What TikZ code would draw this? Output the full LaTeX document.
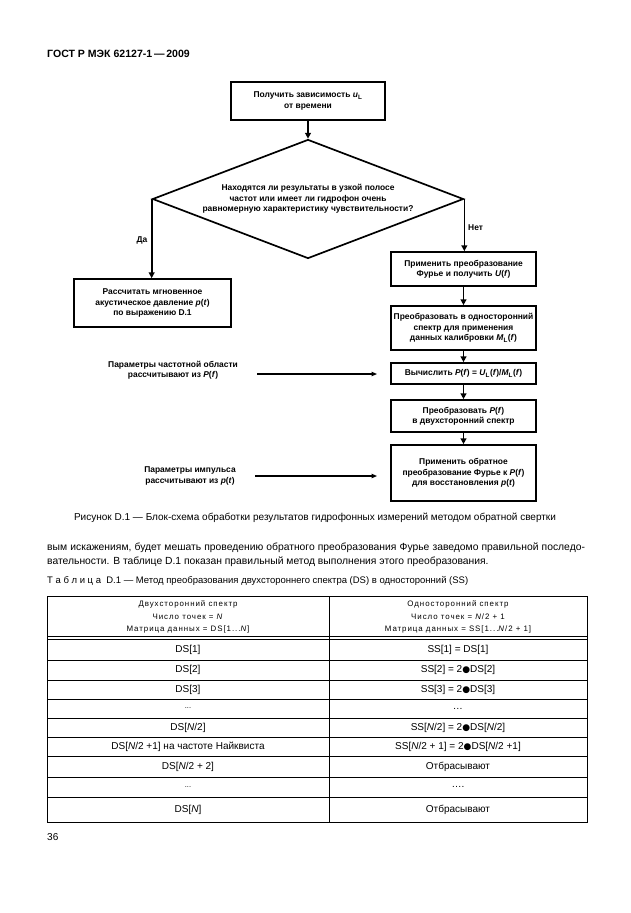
\documentclass[tikz,border=0pt]{standalone}
\usepackage{fontspec}
\setmainfont{Liberation Sans}
\newfontfamily\symfont{DejaVu Sans}
\newfontfamily\spacedfont[LetterSpace=12]{Liberation Sans}
\usetikzlibrary{shapes.geometric,arrows.meta}
\newcommand\pxu{0.3333mm}
\newcommand\bdot{{\symfont\fontsize{8.5}{8.5}\selectfont ●}}
\newcommand\iv[1]{\textit{#1}}
\tikzset{
  fc/.style={font=\fontsize{8}{9.8}\selectfont\bfseries},
  fbox/.style={fc, draw, line width=1.6pt, align=center, inner sep=0pt},
  fdia/.style={fc, draw, line width=1.6pt, align=center, inner sep=0pt, shape=diamond, aspect=2.6},
  flow/.style={line width=1.6pt, -{Triangle[length=5.5pt,width=5.5pt]}},
  inarrow/.style={line width=1pt, -{Triangle[length=5pt,width=4pt]}},
  lbl/.style={fc, align=center, inner sep=0pt},
  cell/.style={font=\fontsize{9.5}{11}\selectfont, inner sep=0pt},
  hcell/.style={font=\spacedfont\fontsize{7.5}{11.5}\selectfont, align=center, inner sep=0pt},
  tline/.style={line width=0.8pt},
  txt/.style={inner sep=0pt, anchor=base west},
}
\begin{document}
\begin{tikzpicture}[x=\pxu,y=-\pxu]
\fill[white] (0,0) rectangle (630,913);
\useasboundingbox (0,0) rectangle (630,913);
% header
\node[txt, font=\fontsize{10}{12}\selectfont\bfseries] (hdr) at (47,57) {ГОСТ Р МЭК 62127-1\,—\,2009};
% flowchart
\node[fbox, minimum width=154*\pxu, minimum height=38*\pxu] (b1) at (308,101) {Получить зависимость \iv{u}\textsubscript{L}\\от времени};
\node[fdia, minimum width=311*\pxu, minimum height=119*\pxu] (dia) at (308,199) {Находятся ли результаты в узкой полосе\\частот или имеет ли гидрофон очень\\равномерную характеристику чувствительности?};
\node[fbox, minimum width=157*\pxu, minimum height=48*\pxu] (b7) at (152.5,303) {Рассчитать мгновенное\\акустическое давление \iv{p}(\iv{t})\\по выражению D.1};
\node[fbox, minimum width=145*\pxu, minimum height=34*\pxu] (b2) at (463.5,269) {Применить преобразование\\Фурье и получить \iv{U}(\iv{f})};
\node[fbox, minimum width=145*\pxu, minimum height=44*\pxu] (b3) at (463.5,328) {Преобразовать в односторонний\\спектр для применения\\данных калибровки \iv{M}\textsubscript{L}(\iv{f})};
\node[fbox, minimum width=145*\pxu, minimum height=21*\pxu] (b4) at (463.5,373.5) {Вычислить \iv{P}(\iv{f}) = \iv{U}\textsubscript{L}(\iv{f})/\iv{M}\textsubscript{L}(\iv{f})};
\node[fbox, minimum width=145*\pxu, minimum height=32*\pxu] (b5) at (463.5,416) {Преобразовать \iv{P}(\iv{f})\\в двухсторонний спектр};
\node[fbox, minimum width=145*\pxu, minimum height=56*\pxu] (b6) at (463.5,473) {Применить обратное\\преобразование Фурье к \iv{P}(\iv{f})\\для восстановления \iv{p}(\iv{t})};
\node[lbl] (yes) at (142,240) {Да};
\node[lbl, anchor=west] (no) at (468,228) {Нет};
\node[lbl] (in1) at (173,370) {Параметры частотной области\\рассчитывают из \iv{P}(\iv{f})};
\node[lbl] (in2) at (190,476) {Параметры импульса\\рассчитывают из \iv{p}(\iv{t})};
\coordinate (p1) at (257,374);
\coordinate (q1) at (377,374);
\coordinate (p2) at (255,476);
\coordinate (q2) at (377,476);
\draw[flow] (b1.south) -- (dia.north);
\draw[flow] (dia.west) -- (dia.west |- b7.north);
\draw[flow] (dia.east) -- (dia.east |- b2.north);
\draw[flow] (b2) -- (b3);
\draw[flow] (b3) -- (b4);
\draw[flow] (b4) -- (b5);
\draw[flow] (b5) -- (b6);
\draw[inarrow] (p1) -- (q1);
\draw[inarrow] (p2) -- (q2);
% caption and body text
\node[inner sep=0pt, font=\fontsize{9.5}{11}\selectfont] (cap) at (315,518) {Рисунок D.1 — Блок-схема обработки результатов гидрофонных измерений методом обратной свертки};
\node[txt, font=\fontsize{9.8}{12}\selectfont] (body1) at (47,550) {\makebox[510pt][s]{вым искажениям, будет мешать проведению обратного преобразования Фурье заведомо правильной последо-}};
\node[txt, font=\fontsize{9.8}{12}\selectfont] (body2) at (47,564) {вательности. В таблице D.1 показан правильный метод выполнения этого преобразования.};
\node[txt, font=\fontsize{9}{12}\selectfont] (tcap) at (47,583) {Т~а~б~л~и~ц~а~~D.1 — Метод преобразования двухстороннего спектра (DS) в односторонний (SS)};
% table
\draw[tline] (47,596) rectangle (587,822);
\draw[tline] (329,596) -- (329,822);
\draw[tline] (47,636.5) -- (587,636.5);
\draw[tline] (47,639.5) -- (587,639.5);
\foreach \yy in {660,680,699,718,737,756,777,797} \draw[tline] (47,\yy) -- (587,\yy);
\node[hcell] (h1) at (188,617) {Двухсторонний спектр\\Число точек = \iv{N}\\Матрица данных = DS[1...\iv{N}]};
\node[hcell] (h2) at (458,617) {Односторонний спектр\\Число точек = \iv{N}/2 + 1\\Матрица данных = SS[1...\iv{N}/2 + 1]};
\node[cell] (l1) at (188,650) {DS[1]};
\node[cell] (r1) at (458,650) {SS[1] = DS[1]};
\node[cell] (l2) at (188,670) {DS[2]};
\node[cell] (r2) at (458,670) {SS[2] = 2\bdot DS[2]};
\node[cell] (l3) at (188,689.5) {DS[3]};
\node[cell] (r3) at (458,689.5) {SS[3] = 2\bdot DS[3]};
\node[cell, font=\fontsize{7}{8}\selectfont] (l4) at (188,708.5) {...};
\node[cell] (r4) at (458,708.5) {…};
\node[cell] (l5) at (188,727.5) {DS[\iv{N}/2]};
\node[cell] (r5) at (458,727.5) {SS[\iv{N}/2] = 2\bdot DS[\iv{N}/2]};
\node[cell] (l6) at (188,746.5) {DS[\iv{N}/2 +1] на частоте Найквиста};
\node[cell] (r6) at (458,746.5) {SS[\iv{N}/2 + 1] = 2\bdot DS[\iv{N}/2 +1]};
\node[cell] (l7) at (188,766.5) {DS[\iv{N}/2 + 2]};
\node[cell] (r7) at (458,766.5) {Отбрасывают};
\node[cell, font=\fontsize{7}{8}\selectfont] (l8) at (188,787) {...};
\node[cell] (r8) at (458,787) {….};
\node[cell] (l9) at (188,809.5) {DS[\iv{N}]};
\node[cell] (r9) at (458,809.5) {Отбрасывают};
% page number
\node[txt, font=\fontsize{9.5}{11}\selectfont] (pg) at (47,840) {36};
\end{tikzpicture}
\end{document}
